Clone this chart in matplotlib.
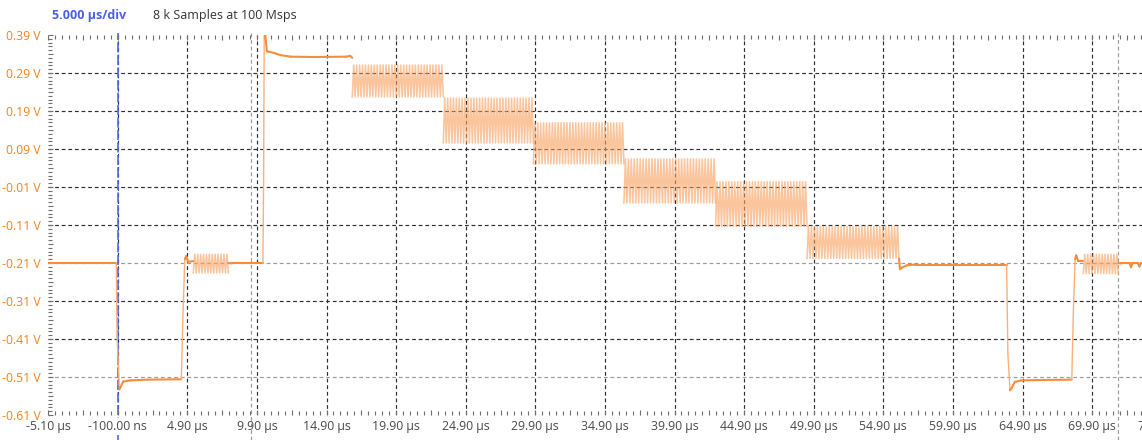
import matplotlib
matplotlib.use("Agg")
import matplotlib.pyplot as plt
from matplotlib.collections import LineCollection
import numpy as np

# ---------------- data ----------------
x_tick_values = [-5.1, -0.1, 4.9, 9.9, 14.9, 19.9, 24.9, 29.9, 34.9, 39.9,
                 44.9, 49.9, 54.9, 59.9, 64.9, 69.9, 74.9]
x_tick_labels = ["-5.10 µs", "-100.00 ns", "4.90 µs", "9.90 µs", "14.90 µs",
                 "19.90 µs", "24.90 µs", "29.90 µs", "34.90 µs", "39.90 µs",
                 "44.90 µs", "49.90 µs", "54.90 µs", "59.90 µs", "64.90 µs",
                 "69.90 µs", "74.90 µs"]
y_tick_values = [0.39, 0.29, 0.19, 0.09, -0.01, -0.11, -0.21, -0.31, -0.41, -0.51, -0.61]
y_tick_labels = ["0.39 V", "0.29 V", "0.19 V", "0.09 V", "-0.01 V", "-0.11 V",
                 "-0.21 V", "-0.31 V", "-0.41 V", "-0.51 V", "-0.61 V"]

trigger_time = -0.1            # µs
cursor_times = [9.49, 71.73]   # µs
cursor_levels = [-0.21, -0.51] # V

# trace pieces between oscillation bursts (time µs, volts)
p0_t = [-5.1, -0.2, -0.15, 0.02, 0.12, 0.3, 0.8, 2.0, 4.47, 4.6, 4.72, 4.82, 4.97, 5.33]
p0_v = [-0.211, -0.211, -0.40, -0.543, -0.535, -0.522, -0.519, -0.517, -0.516, -0.33, -0.2, -0.192, -0.207, -0.205]
p1_t = [7.85, 8.1, 10.33, 10.38, 10.43, 10.5, 10.62, 11.1, 11.6, 12.3, 14.0, 16.3, 16.6, 16.75]
p1_v = [-0.21, -0.211, -0.211, 0.0, 0.43, 0.39, 0.347, 0.343, 0.337, 0.333, 0.332, 0.333, 0.335, 0.33]
p2_t = [56.03, 56.1, 56.25, 56.6, 57.2, 63.76, 63.85, 64.0, 64.1, 64.35, 64.8, 66.0, 68.44, 68.56, 68.68, 68.76, 68.9, 69.27]
p2_v = [-0.198, -0.226, -0.222, -0.216, -0.214, -0.214, -0.45, -0.545, -0.54, -0.523, -0.519, -0.518, -0.517, -0.33, -0.2, -0.19, -0.205, -0.205]
p3_t = [71.78, 72.0, 72.6, 72.7, 72.8, 73.2, 73.3, 73.4, 74.9]
p3_v = [-0.21, -0.211, -0.211, -0.221, -0.211, -0.211, -0.219, -0.211, -0.211]

# oscillation bursts (start, end, upper level, lower level, number of cycles)
burst_t0 = [5.33, 16.75, 23.29, 29.76, 36.27, 42.85, 49.42, 69.27]
burst_t1 = [7.85, 23.29, 29.76, 36.27, 42.85, 49.42, 56.03, 71.78]
burst_hi = [-0.187, 0.311, 0.224, 0.159, 0.064, 0.004, -0.114, -0.187]
burst_lo = [-0.236, 0.227, 0.106, 0.051, -0.052, -0.114, -0.198, -0.238]
burst_cycles = [12, 31, 31, 31, 31, 31, 31, 12]

header_scale = "5.000 µs/div"
header_info = "8 k Samples at 100 Msps"

# ---------------- style ----------------
plt.rcParams["font.family"] = ["Open Sans", "DejaVu Sans"]
W, H, DPI = 1142, 440, 100
fig = plt.figure(figsize=(W / DPI, H / DPI), dpi=DPI)
fig.patch.set_facecolor("white")

left_px, bottom_px, width_px, height_px = 48.1, 25, 1113.6, 380
ax = fig.add_axes([left_px / W, bottom_px / H, width_px / W, height_px / H])
ax.set_xlim(-5.1, 74.9)
ax.set_ylim(-0.61, 0.39)
for s in ax.spines.values():
    s.set_visible(False)

TRACE = "#f68d3d"
EDGE = "#f9b07a"
BURST = "#f8a262"
GRID = "#2e2e2e"
CURSOR = "#9b9b9b"
BLUE = "#5266f2"

# grid
for xv in x_tick_values[1:]:
    ax.axvline(xv, color=GRID, lw=0.85, dashes=(3.2, 2.4), zorder=1)
for yv in y_tick_values[1:-1]:
    if yv in cursor_levels:
        continue
    ax.axhline(yv, color=GRID, lw=0.85, dashes=(3.2, 2.4), zorder=1)
for yv in cursor_levels:
    ax.axhline(yv, color=CURSOR, lw=0.85, dashes=(3.2, 2.4), zorder=1.1)
for xv in cursor_times:
    ax.axvline(xv, ymin=-25 / 380, ymax=1.006, color=CURSOR, lw=0.85,
               dashes=(3.2, 2.4), zorder=1.1, clip_on=False)
ax.axvline(trigger_time, ymin=-25 / 380, ymax=1.006, color=BLUE, lw=1.2,
           dashes=(6, 1.5), zorder=1.2, clip_on=False)

# ticks
x_mid = np.round(np.arange(-5.1, 75.0, 2.5), 2)
ax.set_xticks(x_mid)
ax.set_xticks(np.round(np.arange(-5.1, 75.0, 0.5), 2), minor=True)
lab_map = dict(zip([round(v, 2) for v in x_tick_values], x_tick_labels))
ax.set_xticklabels([lab_map.get(round(v, 2), "") for v in x_mid])
y_mid = np.round(np.arange(-0.61, 0.395, 0.05), 2)
ax.set_yticks(y_mid)
ax.set_yticks(np.round(np.arange(-0.61, 0.395, 0.01), 2), minor=True)
ylab_map = dict(zip([round(v, 2) for v in y_tick_values], y_tick_labels))
ax.set_yticklabels([ylab_map.get(round(v, 2), "") for v in y_mid])

ax.tick_params(axis="both", which="both", direction="in", color="#6e6e6e", width=0.8)
ax.tick_params(axis="x", which="both", top=True, bottom=True)
ax.tick_params(axis="y", which="both", left=True, right=False)
ax.tick_params(which="major", length=3.8)
ax.tick_params(which="minor", length=2.6)
ax.tick_params(axis="x", labelsize=8.8, labelcolor="#4a4a4a", pad=3.5)
ax.tick_params(axis="y", labelsize=8.8, labelcolor="#f5831f", pad=5.5)
ax.set_axisbelow(False)
for t in ax.get_xticklabels():
    if t.get_text() == "-100.00 ns":
        t.set_bbox(dict(facecolor="white", edgecolor="none", pad=1.5))

# trace: level parts darker, fast edges lighter
for pt, pv in [(p0_t, p0_v), (p1_t, p1_v), (p2_t, p2_v), (p3_t, p3_v)]:
    pts = np.column_stack([pt, pv])
    segs = np.stack([pts[:-1], pts[1:]], axis=1)
    steep = np.abs(np.diff(pv)) > 0.08
    cols = [EDGE if s else TRACE for s in steep]
    lws = [1.0 if s else 1.5 for s in steep]
    ax.add_collection(LineCollection(segs, colors=cols, linewidths=lws,
                                     zorder=3, capstyle="round"))
for t0, t1, hi, lo, n in zip(burst_t0, burst_t1, burst_hi, burst_lo, burst_cycles):
    ts = np.linspace(t0, t1, 2 * n + 1)
    vs = [lo if i % 2 == 0 else hi for i in range(len(ts))]
    ax.plot(ts, vs, color=BURST, lw=1.15, alpha=0.62, zorder=2.8)

# header
fig.text(52 / W, 1 - 15.5 / H, header_scale, color="#4a5ef0", fontsize=9,
         fontweight="bold", va="center", ha="left")
fig.text(153 / W, 1 - 15.5 / H, header_info, color="#333333", fontsize=9,
         va="center", ha="left")

fig.savefig("out.png", dpi=DPI, facecolor="white")
